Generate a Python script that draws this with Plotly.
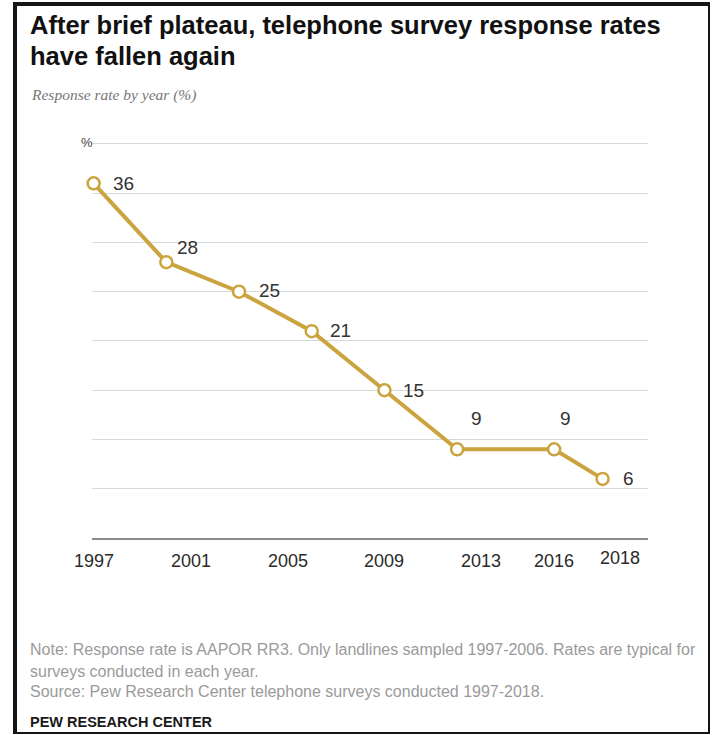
import plotly.graph_objects as go

# Telephone survey response rates (AAPOR RR3), Pew Research Center
years = [1997, 2000, 2003, 2006, 2009, 2012, 2016, 2018]
rates = [36, 28, 25, 21, 15, 9, 9, 6]
tick_years = [1997, 2001, 2005, 2009, 2013, 2016, 2018]
tick_text = ["1997", "2001", "2005", "2009", "2013", "2016", "2018"]

title_lines = ["After brief plateau, telephone survey response rates", "have fallen again"]
subtitle = "Response rate by year (%)"
note_lines = [
    "Note: Response rate is AAPOR RR3. Only landlines sampled 1997-2006. Rates are typical for",
    "surveys conducted in each year.",
    "Source: Pew Research Center telephone surveys conducted 1997-2018.",
]
credit = "PEW RESEARCH CENTER"

# value-label placement: (xanchor, xshift, yshift) per point
label_style = [
    ("left", 17, 0), ("left", 9, 15), ("left", 18, 1), ("left", 16, 1),
    ("left", 17, 0), ("center", 19, 31), ("center", 11, 31), ("left", 18, 0),
]
# tick-label nudges (xshift, yshift)
tick_nudge = [(0, 0), (0, 0), (0, 0), (0, 0), (0, 0), (0, 0), (17, 3)]

W, H = 712, 735
L, R, T, B = 92, 64, 142, 197
PW, PH = W - L - R, H - T - B


def px(x):
    return (x - L) / PW


def py(y):
    return (H - B - y) / PH


GOLD = "#CBA440"
SANS = "Liberation Sans, Arial, sans-serif"

fig = go.Figure()
fig.add_trace(go.Scatter(
    x=years, y=rates, mode="lines+markers",
    line=dict(color=GOLD, width=4),
    marker=dict(size=12, color="white", line=dict(color=GOLD, width=2.5)),
    cliponaxis=False, hoverinfo="skip", showlegend=False,
))

ann = []
for x, y, (xa, dx, dy) in zip(years, rates, label_style):
    ann.append(dict(x=x, y=y, xref="x", yref="y", text=str(y), showarrow=False,
                    xanchor=xa, yanchor="middle", xshift=dx, yshift=dy,
                    font=dict(family=SANS, size=19, color="#333333")))

for x, t, (dx, dy) in zip(tick_years, tick_text, tick_nudge):
    ann.append(dict(x=x, y=py(561), xref="x", yref="paper", text=t, showarrow=False,
                    xanchor="center", yanchor="middle", xshift=dx, yshift=dy,
                    font=dict(family=SANS, size=18, color="#2a2a2a")))

ann.append(dict(x=px(87), y=py(143), xref="paper", yref="paper", text="%", showarrow=False,
                xanchor="center", yanchor="middle",
                font=dict(family=SANS, size=13, color="#444444")))

for yy, line in zip([25, 56], title_lines):
    ann.append(dict(x=px(28), y=py(yy), xref="paper", yref="paper", text="<b>%s</b>" % line,
                    showarrow=False, xanchor="left", yanchor="middle",
                    font=dict(family=SANS, size=25.5, color="#111111")))
ann.append(dict(x=px(29), y=py(95), xref="paper", yref="paper", text="<i>%s</i>" % subtitle,
                showarrow=False, xanchor="left", yanchor="middle",
                font=dict(family="Liberation Serif, Times New Roman, serif", size=15.5, color="#777777")))

for yy, line in zip([649, 671, 691], note_lines):
    ann.append(dict(x=px(28), y=py(yy), xref="paper", yref="paper", text=line, showarrow=False,
                    xanchor="left", yanchor="middle",
                    font=dict(family=SANS, size=16, color="#9a9a9a")))
ann.append(dict(x=px(28), y=py(722), xref="paper", yref="paper", text="<b>%s</b>" % credit,
                showarrow=False, xanchor="left", yanchor="middle",
                font=dict(family=SANS, size=14.5, color="#1a1a1a")))

# outer frame
frame = [
    dict(x0=px(15), x1=px(15), y0=py(2), y1=py(734), w=4),
    dict(x0=px(13), x1=px(710), y0=py(4), y1=py(4), w=4),
    dict(x0=px(709), x1=px(709), y0=py(2), y1=py(734), w=2),
    dict(x0=px(13), x1=px(710), y0=py(733), y1=py(733), w=2),
]
shapes = [dict(type="line", xref="paper", yref="paper", x0=f["x0"], x1=f["x1"],
               y0=f["y0"], y1=f["y1"], line=dict(color="#151515", width=f["w"]))
          for f in frame]

fig.update_layout(
    width=W, height=H,
    margin=dict(l=L, r=R, t=T, b=B, pad=0),
    paper_bgcolor="white", plot_bgcolor="white",
    annotations=ann, shapes=shapes,
    xaxis=dict(range=[1996.934, 2019.874], showgrid=False, zeroline=False,
               showticklabels=False, ticks="", showline=True,
               linecolor="#8c8c8c", linewidth=1.5, fixedrange=True),
    yaxis=dict(range=[0, 40.2], tick0=0, dtick=5, showgrid=True,
               gridcolor="#d9d9d9", gridwidth=1.3, zeroline=False,
               showticklabels=False, ticks="", showline=False, fixedrange=True),
)

fig.write_html("out.html")
